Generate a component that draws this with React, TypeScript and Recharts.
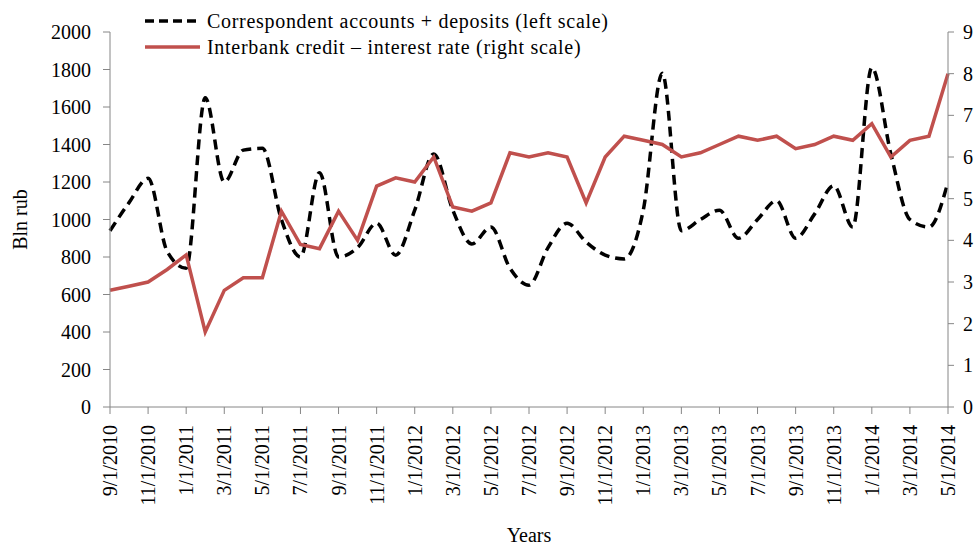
import { LineChart, Line, XAxis, YAxis, Legend } from "recharts";

const months = [
  "9/1/2010", "10/1/2010", "11/1/2010", "12/1/2010",
  "1/1/2011", "2/1/2011", "3/1/2011", "4/1/2011", "5/1/2011", "6/1/2011",
  "7/1/2011", "8/1/2011", "9/1/2011", "10/1/2011", "11/1/2011", "12/1/2011",
  "1/1/2012", "2/1/2012", "3/1/2012", "4/1/2012", "5/1/2012", "6/1/2012",
  "7/1/2012", "8/1/2012", "9/1/2012", "10/1/2012", "11/1/2012", "12/1/2012",
  "1/1/2013", "2/1/2013", "3/1/2013", "4/1/2013", "5/1/2013", "6/1/2013",
  "7/1/2013", "8/1/2013", "9/1/2013", "10/1/2013", "11/1/2013", "12/1/2013",
  "1/1/2014", "2/1/2014", "3/1/2014", "4/1/2014", "5/1/2014",
];

// correspondent accounts + deposits, bln rub (left scale)
const accounts = [
  940, 1090, 1220, 830, 740, 1650, 1200, 1370, 1380, 1000,
  800, 1250, 800, 850, 980, 810, 1050, 1350, 1050, 870,
  960, 740, 650, 850, 980, 880, 810, 790, 1050, 1780,
  940, 1000, 1050, 900, 1000, 1100, 900, 1030, 1180, 960,
  1810, 1350, 1000, 960, 1200,
];

// interbank credit interest rate, % (right scale)
const rate = [
  2.8, 2.9, 3.0, 3.3, 3.65, 1.8, 2.8, 3.1, 3.1, 4.7,
  3.9, 3.8, 4.7, 4.0, 5.3, 5.5, 5.4, 6.0, 4.8, 4.7,
  4.9, 6.1, 6.0, 6.1, 6.0, 4.9, 6.0, 6.5, 6.4, 6.3,
  6.0, 6.1, 6.3, 6.5, 6.4, 6.5, 6.2, 6.3, 6.5, 6.4,
  6.8, 6.0, 6.4, 6.5, 8.0,
];

const leftTicks = [0, 200, 400, 600, 800, 1000, 1200, 1400, 1600, 1800, 2000];
const rightTicks = [0, 1, 2, 3, 4, 5, 6, 7, 8, 9];

const data = months.map((m, i) => ({ month: m, accounts: accounts[i], rate: rate[i] }));

const FONT = "'Liberation Serif', 'Times New Roman', serif";
const RED = "#C0504D";
const AXIS = "#868686";

const MonthTick = ({ x, y, payload }: any) => (
  <text
    x={x}
    y={y}
    transform={`rotate(-90, ${x}, ${y})`}
    textAnchor="end"
    dy="0.35em"
    fontSize={20}
    fontFamily={FONT}
    fill="#000"
  >
    {payload.value}
  </text>
);

const LegendBox = () => (
  <div style={{ fontFamily: FONT, fontSize: 20, color: "#000", lineHeight: "26px", letterSpacing: 0.7 }}>
    <div style={{ display: "flex", alignItems: "center", whiteSpace: "nowrap" }}>
      <svg width={64} height={26}>
        <line x1={2} y1={13} x2={57} y2={13} stroke="#000" strokeWidth={3.5} strokeDasharray="9 5" />
      </svg>
      <span>Correspondent accounts + deposits (left scale)</span>
    </div>
    <div style={{ display: "flex", alignItems: "center", whiteSpace: "nowrap" }}>
      <svg width={64} height={26}>
        <line x1={2} y1={13} x2={57} y2={13} stroke={RED} strokeWidth={3.5} />
      </svg>
      <span>Interbank credit – interest rate (right scale)</span>
    </div>
  </div>
);

export default function App() {
  return (
    <div style={{ position: "absolute", left: 0, top: 0, background: "#fff" }}>
      <LineChart width={978} height={545} data={data} margin={{ top: 32, right: 0, left: 0, bottom: 0 }}>
        <XAxis
          dataKey="month"
          interval={1}
          height={138}
          tick={<MonthTick />}
          tickSize={7}
          tickMargin={11}
          stroke={AXIS}
          label={{ value: "Years", position: "insideBottom", offset: 3, fontSize: 20, fontFamily: FONT, fill: "#000" }}
        />
        <YAxis
          yAxisId="left"
          width={110}
          domain={[0, 2000]}
          ticks={leftTicks}
          tickSize={7}
          tickMargin={12}
          stroke={AXIS}
          tick={{ fontSize: 20, fontFamily: FONT, fill: "#000" }}
          label={{
            value: "Bln rub",
            angle: -90,
            position: "insideLeft",
            offset: 20,
            fontSize: 20,
            fontFamily: FONT,
            fill: "#000",
            style: { textAnchor: "middle" },
          }}
        />
        <YAxis
          yAxisId="right"
          orientation="right"
          width={30}
          domain={[0, 9]}
          ticks={rightTicks}
          tickSize={6}
          tickMargin={9}
          stroke={AXIS}
          tick={{ fontSize: 20, fontFamily: FONT, fill: "#000" }}
        />
        <Legend
          layout="vertical"
          align="center"
          verticalAlign="middle"
          content={<LegendBox />}
          wrapperStyle={{ left: 143, top: 8, width: "auto" }}
        />
        <Line
          yAxisId="left"
          dataKey="accounts"
          type="monotone"
          stroke="#000"
          strokeWidth={3.5}
          strokeDasharray="10 6"
          dot={false}
          isAnimationActive={false}
        />
        <Line
          yAxisId="right"
          dataKey="rate"
          type="linear"
          stroke={RED}
          strokeWidth={3.5}
          dot={false}
          isAnimationActive={false}
        />
      </LineChart>
    </div>
  );
}
